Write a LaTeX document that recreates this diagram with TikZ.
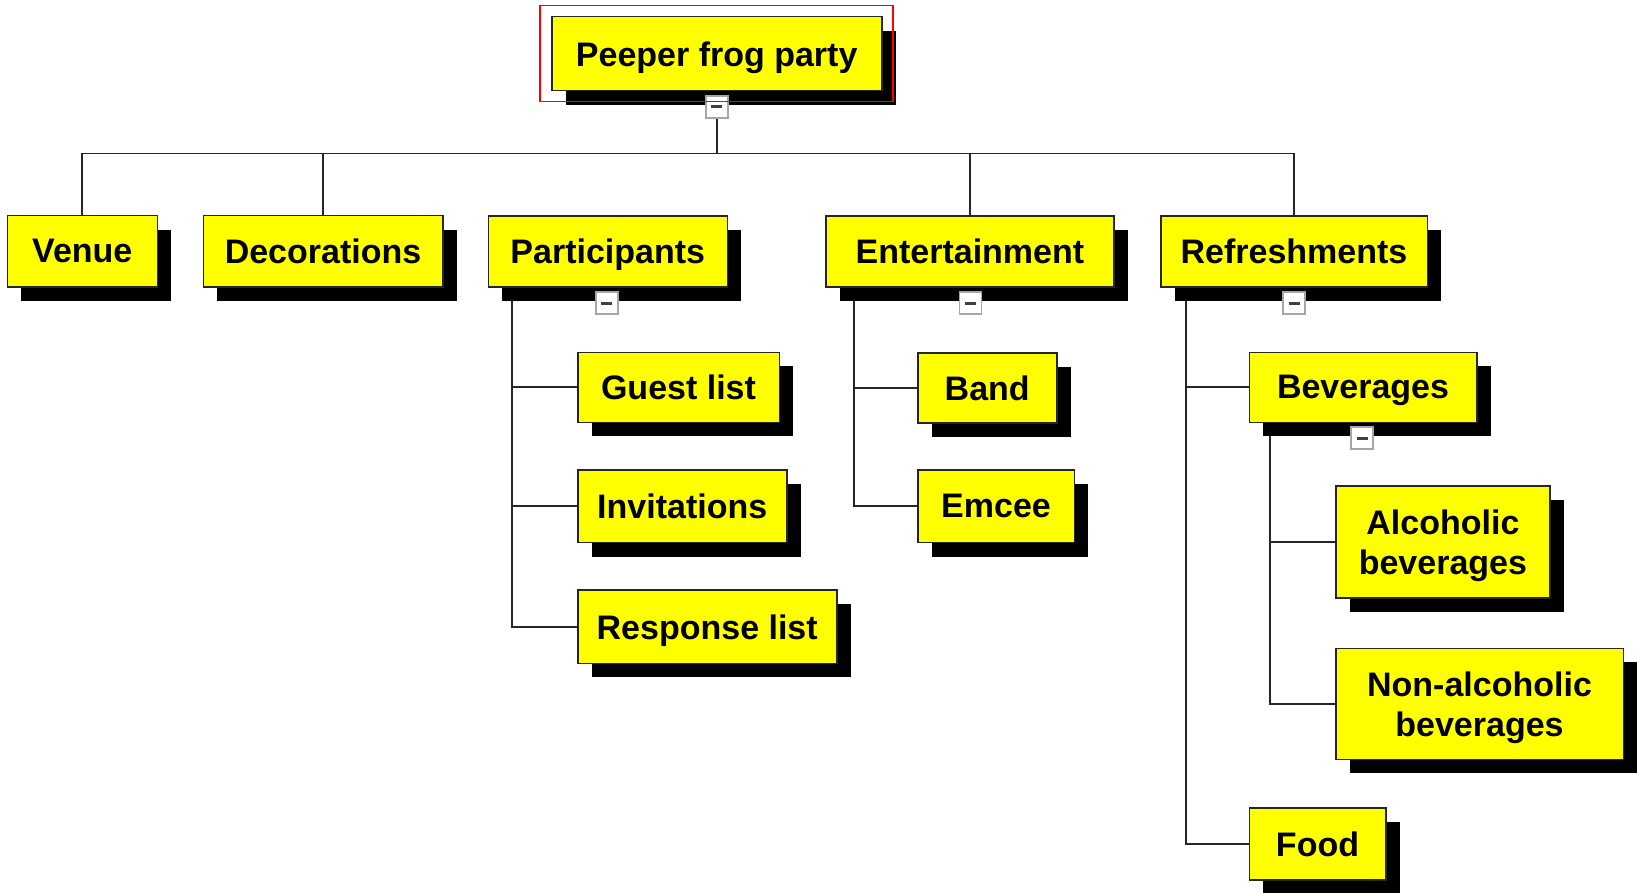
\documentclass[tikz,border=0pt]{standalone}
\usepackage{fontspec}
\setmainfont{Liberation Sans}
\usetikzlibrary{shadows,calc,backgrounds}
\definecolor{boxyellow}{HTML}{FFFF00}
\begin{document}
\begin{tikzpicture}[x=1pt,y=-1pt,
  topic/.style={draw=black!85, line width=1.6pt, fill=boxyellow,
    drop shadow={shadow xshift=14pt, shadow yshift=-14pt, opacity=1, fill=black},
    inner sep=0pt, text depth=0pt, align=center,
    font=\fontsize{34}{40}\selectfont\bfseries},
  link/.style={draw=black!85, line width=1.8pt},
  collapser/.style={draw=black!35, line width=1.6pt, fill=white,
    minimum size=22pt, inner sep=0pt,
    path picture={\draw[line width=3pt, black!75]
      ([xshift=-5.5pt]path picture bounding box.center) --
      ([xshift=5.5pt]path picture bounding box.center);}}]
\useasboundingbox (0,0) rectangle (1637,893);

% topics
\node[topic, minimum width=330pt, minimum height=74pt] (root) at (716.7,53.7) {Peeper frog party};
\node[topic, minimum width=150pt, minimum height=71pt] (V) at (82.3,251.2) {Venue};
\node[topic, minimum width=239.4pt, minimum height=71pt] (D) at (323,251.2) {Decorations};
\node[topic, minimum width=239pt, minimum height=71.5pt] (P) at (607.8,251.5) {Participants};
\node[topic, minimum width=288.2pt, minimum height=71.5pt] (E) at (969.9,251.5) {Entertainment};
\node[topic, minimum width=266.6pt, minimum height=71.5pt] (R) at (1294,251.5) {Refreshments};

\node[topic, minimum width=201.6pt, minimum height=70pt] (G) at (678.5,387.3) {Guest list};
\node[topic, minimum width=209pt, minimum height=72.7pt] (I) at (682.2,506.3) {Invitations};
\node[topic, minimum width=259pt, minimum height=73.3pt] (RL) at (707.2,626.7) {Response list};

\node[topic, minimum width=139pt, minimum height=70pt] (B) at (987.2,387.7) {Band};
\node[topic, minimum width=156.6pt, minimum height=72.7pt] (Em) at (996,506.3) {Emcee};

\node[topic, minimum width=227.4pt, minimum height=70pt] (Bev) at (1363,387.3) {Beverages};
\node[topic, minimum width=214.3pt, minimum height=112pt] (A) at (1442.9,541.7) {Alcoholic\\beverages};
\node[topic, minimum width=287.6pt, minimum height=111pt] (N) at (1479.5,703.8) {Non-alcoholic\\beverages};
\node[topic, minimum width=136.4pt, minimum height=72.3pt] (F) at (1317.5,843.9) {Food};

% collapse buttons
\node[collapser] (rb) at ($(root.south)+(0,15.5)$) {};
\node[collapser] (pb) at ($(P.south)+(-1,15)$) {};
\node[collapser] (eb) at ($(E.south)+(0.5,15)$) {};
\node[collapser] (fb) at ($(R.south)+(0,15)$) {};
\node[collapser] (bb) at ($(Bev.south)+(-1,15)$) {};

% connectors
\begin{scope}[on background layer]
\coordinate (bus) at (0,153.5);
\draw[link] (rb.south) -- (rb.south |- bus);
\draw[link] (V.north) -- (V.north |- bus) -- (R.north |- bus) -- (R.north);
\draw[link] (D.north) -- (D.north |- bus);
\draw[link] ($(P.north)+(-1,0)$) -- ($(P.north)+(-1,0)$ |- bus);
\draw[link] (E.north) -- (E.north |- bus);

\draw[link] (P.south west) ++(24.4,0) coordinate (pv) |- (G.west) (pv) |- (I.west) (pv) |- (RL.west);
\draw[link] (E.south west) ++(28.9,0) coordinate (ev) |- (B.west) (ev) |- (Em.west);
\draw[link] (R.south west) ++(26,0) coordinate (rv) |- (Bev.west) (rv) |- (F.west);
\draw[link] (Bev.south west) ++(21.4,0) coordinate (bv) |- (A.west) (bv) |- (N.west);
\end{scope}

% selection frame
\draw[red, line width=1.3pt] ($(root.north west)+(-11,-10.7)$) rectangle ($(root.south east)+(10.6,10.3)$);
\end{tikzpicture}
\end{document}
